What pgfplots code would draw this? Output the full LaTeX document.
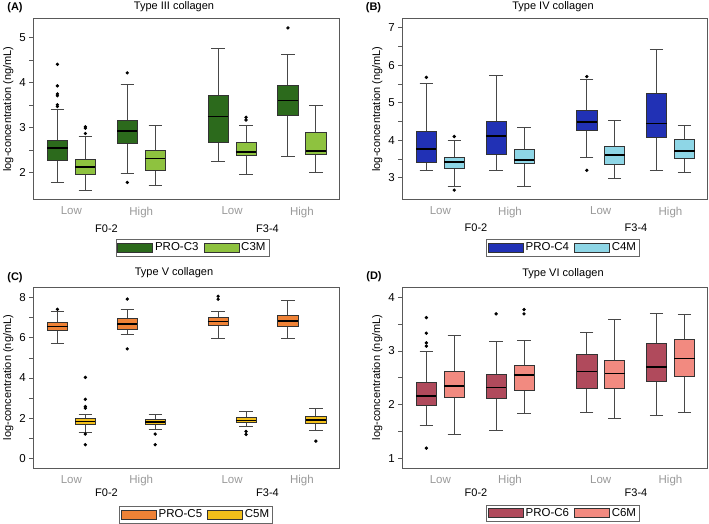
\documentclass[border=0pt]{standalone}
\usepackage{fontspec}
\setmainfont{Liberation Sans}
\usepackage{pgfplots}
\pgfplotsset{compat=1.18}
\usepgfplotslibrary{statistics}

\definecolor{c3a}{HTML}{2C6A1C}
\definecolor{c3b}{HTML}{8EC23F}
\definecolor{c4a}{HTML}{2131B5}
\definecolor{c4b}{HTML}{8ED6E6}
\definecolor{c5a}{HTML}{EF8236}
\definecolor{c5b}{HTML}{F2BF1A}
\definecolor{c6a}{HTML}{B04A5C}
\definecolor{c6b}{HTML}{F28A80}

% one box: position, lower whisker, lower quartile, median, upper quartile, upper whisker, colour, outliers
\newcommand{\bx}[8]{\addplot[forget plot, fill=#7, draw=black!80, line width=0.8pt,
    boxplot prepared={draw position=#1, lower whisker=#2, lower quartile=#3,
    median=#4, upper quartile=#5, upper whisker=#6}] coordinates {#8};}

\newcommand{\swatch}[1]{\addlegendimage{legend image code/.code={%
    \draw[fill=#1, draw=black!80, line width=0.7pt] (0pt,-4.5pt) rectangle (35pt,4.5pt);}}}

\pgfplotsset{
  panel/.style={
    scale only axis, width=306pt, height=181pt,
    axis line style={draw=black!65, line width=0.9pt},
    xmin=0.455, xmax=4.835,
    xtick={1,2,3.3,4.3}, xticklabels={Low,High,Low,High},
    x tick label style={text=black!40, font=\fontsize{11.5}{13}\selectfont},
    xtick style={draw=none},
    y tick label style={font=\fontsize{11.5}{13}\selectfont},
    ytick pos=left, tick align=outside,
    major tick length=4pt, minor tick length=4pt,
    ytick style={draw=black!65, line width=0.8pt},
    minor y tick style={draw=black!65, line width=0.8pt},
    /pgf/number format/assume math mode=true,
    ylabel={log-concentration (ng/mL)},
    ylabel style={font=\fontsize{11}{12}\selectfont, at={(axis description cs:-0.082,0.5)}, anchor=center},
    boxplot/draw direction=y,
    boxplot/box extend=0.29, boxplot/whisker extend=0.19,
    boxplot/every median/.style={draw=black, line width=1.6pt},
    boxplot/every whisker/.style={draw=black!72, line width=1pt},
    every axis plot/.append style={mark=*, mark size=1.25pt, mark options={draw=black, fill=black}},
    legend columns=2,
    legend style={draw=black!60, line width=0.6pt, font=\fontsize{11.5}{13}\selectfont,
      inner sep=1.5pt, anchor=north, /tikz/every even column/.append style={column sep=3pt}},
  },
}

\begin{document}
\begin{tikzpicture}
\path[use as bounding box] (0,0) rectangle (709pt,523pt);

% (A) Type III collagen
\begin{axis}[panel, at={(33.3pt,323.5pt)}, anchor=south west,
    ymin=1.40, ymax=5.43, ytick={2,3,4,5}, minor ytick={2.5,3.5,4.5},
    legend style={at={(0.52,0)}, yshift=-39.5pt}]
\swatch{c3a}\addlegendentry{PRO-C3}
\swatch{c3b}\addlegendentry{C3M}
\bx{0.8}{1.77}{2.28}{2.54}{2.72}{3.40}{c3a}{(0,4.41) (0,3.93) (0,3.75) (0,3.71) (0,3.51) (0,3.47)}
\bx{1.2}{1.59}{1.95}{2.12}{2.30}{2.81}{c3b}{(0,3.02) (0,2.99) (0,2.87)}
\bx{1.8}{1.99}{2.66}{2.92}{3.17}{3.96}{c3a}{(0,4.22) (0,1.78)}
\bx{2.2}{1.72}{2.05}{2.31}{2.49}{3.05}{c3b}{}
\bx{3.1}{2.25}{2.67}{3.25}{3.71}{4.77}{c3a}{}
\bx{3.5}{1.96}{2.39}{2.46}{2.67}{3.04}{c3b}{(0,3.23) (0,3.17)}
\bx{4.1}{2.36}{3.27}{3.60}{3.93}{4.63}{c3a}{(0,5.22)}
\bx{4.5}{2.01}{2.41}{2.48}{2.90}{3.49}{c3b}{}
\end{axis}

% (B) Type IV collagen
\begin{axis}[panel, at={(402.3pt,323.5pt)}, anchor=south west, width=305.5pt,
    ymin=2.42, ymax=7.25, ytick={3,4,5,6,7}, minor ytick={3.5,4.5,5.5,6.5},
    legend style={at={(0.526,0)}, yshift=-39.5pt}]
\swatch{c4a}\addlegendentry{PRO-C4}
\swatch{c4b}\addlegendentry{C4M}
\bx{0.8}{3.19}{3.40}{3.77}{4.23}{5.51}{c4a}{(0,5.68)}
\bx{1.2}{2.77}{3.25}{3.42}{3.55}{4.00}{c4b}{(0,4.10) (0,2.67)}
\bx{1.8}{3.19}{3.62}{4.12}{4.51}{5.73}{c4a}{}
\bx{2.2}{2.77}{3.37}{3.48}{3.76}{4.33}{c4b}{}
\bx{3.1}{3.55}{4.26}{4.49}{4.80}{5.63}{c4a}{(0,5.70) (0,3.20)}
\bx{3.5}{2.99}{3.35}{3.61}{3.85}{4.53}{c4b}{}
\bx{4.1}{3.19}{4.09}{4.45}{5.25}{6.41}{c4a}{}
\bx{4.5}{3.14}{3.52}{3.72}{4.03}{4.40}{c4b}{}
\end{axis}

% (C) Type V collagen
\begin{axis}[panel, at={(33.3pt,55pt)}, anchor=south west,
    ymin=-0.48, ymax=8.53, ytick={0,2,4,6,8}, minor ytick={1,3,5,7},
    legend style={at={(0.532,0)}, yshift=-38pt}]
\swatch{c5a}\addlegendentry{PRO-C5}
\swatch{c5b}\addlegendentry{C5M}
\bx{0.8}{5.70}{6.35}{6.56}{6.76}{7.31}{c5a}{(0,7.42)}
\bx{1.2}{1.27}{1.70}{1.83}{1.98}{2.20}{c5b}{(0,4.03) (0,2.94) (0,2.58) (0,2.50) (0,1.21) (0,0.68)}
\bx{1.8}{6.18}{6.40}{6.68}{6.98}{7.42}{c5a}{(0,7.93) (0,5.45)}
\bx{2.2}{1.42}{1.69}{1.80}{1.92}{2.18}{c5b}{(0,1.21) (0,0.68)}
\bx{3.1}{5.97}{6.60}{6.81}{7.02}{7.31}{c5a}{(0,8.07) (0,7.92)}
\bx{3.5}{1.59}{1.79}{1.88}{2.02}{2.33}{c5b}{(0,1.34) (0,1.19)}
\bx{4.1}{5.95}{6.56}{6.84}{7.12}{7.85}{c5a}{}
\bx{4.5}{1.40}{1.74}{1.90}{2.07}{2.48}{c5b}{(0,0.86)}
\end{axis}

% (D) Type VI collagen
\begin{axis}[panel, at={(402.3pt,55pt)}, anchor=south west, width=305.5pt,
    ymin=0.82, ymax=4.19, ytick={1,2,3,4}, minor ytick={1.5,2.5,3.5},
    legend style={at={(0.526,0)}, yshift=-36.5pt}]
\swatch{c6a}\addlegendentry{PRO-C6}
\swatch{c6b}\addlegendentry{C6M}
\bx{0.8}{1.62}{1.99}{2.16}{2.41}{2.98}{c6a}{(0,3.62) (0,3.33) (0,3.15) (0,3.09) (0,1.19)}
\bx{1.2}{1.44}{2.14}{2.35}{2.62}{3.28}{c6b}{}
\bx{1.8}{1.52}{2.12}{2.32}{2.56}{3.17}{c6a}{(0,3.69)}
\bx{2.2}{1.83}{2.27}{2.55}{2.73}{3.19}{c6b}{(0,3.77) (0,3.69)}
\bx{3.1}{1.86}{2.30}{2.62}{2.93}{3.35}{c6a}{}
\bx{3.5}{1.75}{2.31}{2.58}{2.83}{3.59}{c6b}{}
\bx{4.1}{1.80}{2.43}{2.70}{3.14}{3.69}{c6a}{}
\bx{4.5}{1.85}{2.52}{2.86}{3.21}{3.68}{c6b}{}
\end{axis}

% panel letters, titles and group labels
\begin{scope}[every node/.style={font=\fontsize{11}{13}\selectfont}]
\node[font=\fontsize{11}{13}\selectfont\bfseries] at (15pt,515.5pt) {(A)};
\node[font=\fontsize{11}{13}\selectfont\bfseries] at (373.5pt,515.5pt) {(B)};
\node[font=\fontsize{11}{13}\selectfont\bfseries] at (15pt,245pt) {(C)};
\node[font=\fontsize{11}{13}\selectfont\bfseries] at (374pt,246pt) {(D)};
\node at (174pt,516pt) {Type III collagen};
\node at (553pt,516pt) {Type IV collagen};
\node at (174pt,250pt) {Type V collagen};
\node at (563pt,249pt) {Type VI collagen};
\node at (106.5pt,294pt) {F0-2};
\node at (267.5pt,294pt) {F3-4};
\node at (476pt,295pt) {F0-2};
\node at (636pt,295pt) {F3-4};
\node at (106.5pt,30pt) {F0-2};
\node at (267.5pt,30pt) {F3-4};
\node at (476pt,30.5pt) {F0-2};
\node at (636pt,30.5pt) {F3-4};
\end{scope}
\end{tikzpicture}
\end{document}
